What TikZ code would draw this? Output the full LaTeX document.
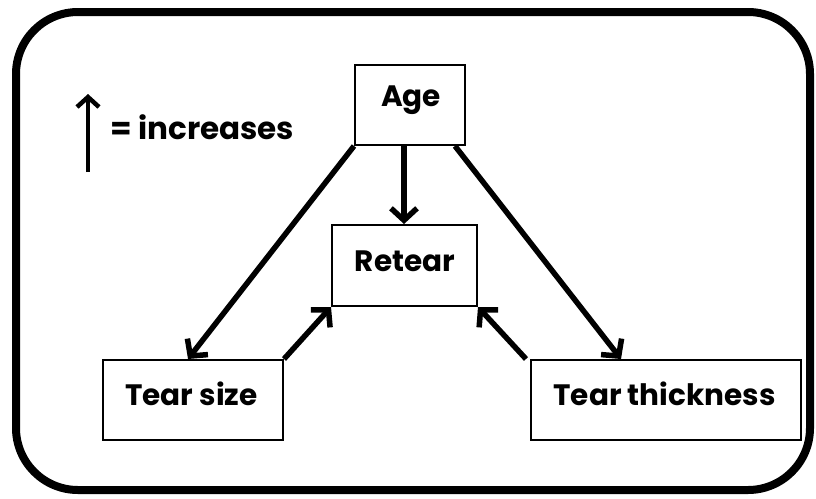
\documentclass[tikz,border=0pt]{standalone}
\usepackage{fontspec}
\setmainfont{Poppins}
\usetikzlibrary{arrows.meta}
\begin{document}
\begin{tikzpicture}[x=1pt,y=-1pt,
  lbl/.style={font=\fontsize{29.5}{32}\selectfont\bfseries,inner sep=0pt},
  box/.style={draw,line width=2pt,inner sep=0pt},
  conn/.style={line width=5.5pt,-{Straight Barb[length=12pt,width=26pt,line width=5.5pt]}}]
\useasboundingbox (0,0) rectangle (816,498);
\draw[line width=8pt,rounded corners=62pt] (16,12) rectangle (810,490);
% boxes
\node[box,minimum width=110pt,minimum height=80pt] (age) at (410,105) {};
\node[lbl] at (411,100) {Age};
\node[box,minimum width=145pt,minimum height=81pt] (retear) at (404.5,265.5) {};
\node[lbl] at (405,261) {Retear};
\node[box,minimum width=180pt,minimum height=80pt] (size) at (193,400) {};
\node[lbl] at (191.5,394) {Tear size};
\node[box,minimum width=270pt,minimum height=80pt] (thick) at (666,400) {};
\node[lbl] at (664.5,394) {Tear thickness};
% legend
\coordinate (l1) at (88,172);
\coordinate (l2) at (88,94);
\draw[line width=4.5pt,-{Straight Barb[length=10pt,width=22pt,line width=4.5pt]}] (l1) -- (l2);
\node[anchor=base west,lbl,font=\fontsize{31}{34}\selectfont\bfseries] (leg) at (110,139) {= increases};
% connectors
\draw[conn] (age.south west) -- (size.north -| 188,0);
\draw[conn] (age.south -| 404,0) -- (retear.north -| 404,0);
\draw[conn] (age.south east -| 455,0) -- (thick.north -| 621,0);
\draw[conn] (size.north east) -- (retear.south west);
\draw[conn] (thick.north west -| 526,0) -- (retear.south east);
\end{tikzpicture}
\end{document}
